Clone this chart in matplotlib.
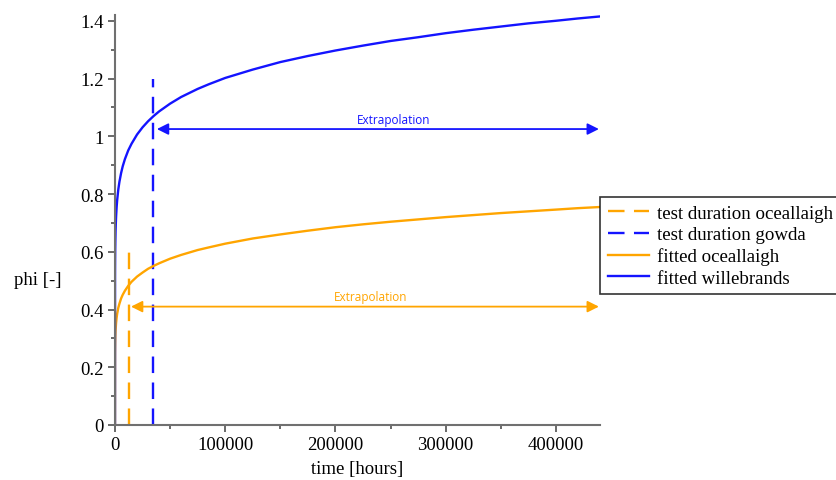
import matplotlib
matplotlib.use("Agg")
import matplotlib.pyplot as plt
from matplotlib.ticker import MultipleLocator

# time [hours] sample points of the fitted curves
t_fit = [0, 50, 100, 200, 300, 500, 700, 1000, 1500, 2000, 3000, 4000, 5500, 7000, 9000,
         12000, 15000, 20000, 25000, 30000, 35000, 40000, 50000, 60000, 75000, 85000,
         100000, 125000, 150000, 175000, 200000, 225000, 250000, 275000, 300000,
         325000, 350000, 375000, 400000, 420000, 440000]
phi_willebrands = [0.0, 0.519, 0.560, 0.605, 0.632, 0.669, 0.694, 0.722, 0.756, 0.780,
                   0.816, 0.842, 0.872, 0.896, 0.921, 0.951, 0.974, 1.006, 1.031, 1.052,
                   1.070, 1.086, 1.113, 1.136, 1.164, 1.180, 1.202, 1.231, 1.257, 1.278,
                   1.297, 1.314, 1.330, 1.343, 1.357, 1.369, 1.380, 1.391, 1.400, 1.408,
                   1.415]
phi_oceallaigh = [0.0, 0.244, 0.266, 0.289, 0.304, 0.325, 0.338, 0.354, 0.372, 0.386,
                  0.406, 0.420, 0.438, 0.451, 0.465, 0.482, 0.496, 0.514, 0.528, 0.541,
                  0.551, 0.560, 0.576, 0.589, 0.606, 0.615, 0.628, 0.646, 0.660, 0.673,
                  0.685, 0.695, 0.704, 0.712, 0.720, 0.727, 0.734, 0.740, 0.746, 0.751,
                  0.755]

# test durations (vertical markers) and their heights
test_oceallaigh = 12900
test_oceallaigh_top = 0.6
test_gowda = 34700
test_gowda_top = 1.2

# extrapolation arrows: (start, end, level)
extrap_blue = (38000, 439000, 1.025)
extrap_orange = (14500, 439000, 0.41)

ORANGE = "#FFA500"
BLUE = "#1414FF"
SERIF = ["Liberation Serif", "DejaVu Serif"]

fig = plt.figure(figsize=(8.36, 4.81), dpi=100)
ax = fig.add_axes([115 / 836, 1 - 426 / 481, (600 - 115) / 836, (426 - 16) / 481])

ax.plot([test_oceallaigh, test_oceallaigh], [0, test_oceallaigh_top], color=ORANGE,
        lw=1.7, dashes=(7, 4), label="test duration oceallaigh")
ax.plot([test_gowda, test_gowda], [0, test_gowda_top], color=BLUE,
        lw=1.7, dashes=(7, 4), label="test duration gowda")
ax.plot(t_fit, phi_oceallaigh, color=ORANGE, lw=1.7, label="fitted oceallaigh")
ax.plot(t_fit, phi_willebrands, color=BLUE, lw=1.7, label="fitted willebrands")

for (x0, x1, y), col, tx in [(extrap_blue, BLUE, 253000), (extrap_orange, ORANGE, 232000)]:
    ax.annotate("", xy=(x1, y), xytext=(x0, y),
                arrowprops=dict(arrowstyle="<|-|>", color=col, lw=1.3,
                                mutation_scale=17, shrinkA=0, shrinkB=0))
    ax.text(tx, y + 0.012, "Extrapolation", color=col, fontsize=8.5,
            family=["Open Sans", "DejaVu Sans"], ha="center", va="bottom")

ax.set_xlim(0, 440000)
ax.set_ylim(0, 1.42)
ax.xaxis.set_major_locator(MultipleLocator(100000))
ax.xaxis.set_minor_locator(MultipleLocator(50000))
ax.yaxis.set_minor_locator(MultipleLocator(0.1))
ax.set_yticks([0, 0.2, 0.4, 0.6, 0.8, 1.0, 1.2, 1.4])
ax.set_yticklabels(["0", "0.2", "0.4", "0.6", "0.8", "1", "1.2", "1.4"])

for s in ["top", "right"]:
    ax.spines[s].set_visible(False)
for s in ["left", "bottom"]:
    ax.spines[s].set_color("#707070")
    ax.spines[s].set_linewidth(1.5)
ax.tick_params(which="major", length=5, width=1.2, color="#505050", labelsize=13.5, pad=3)
ax.tick_params(which="minor", length=3, width=1.2, color="#505050")
for lbl in ax.get_xticklabels() + ax.get_yticklabels():
    lbl.set_family(SERIF)

ax.set_xlabel("time [hours]", family=SERIF, fontsize=13.5, labelpad=5)
ax.set_ylabel("phi [-]", family=SERIF, fontsize=13.5, rotation=0, ha="center", va="center")
ax.yaxis.set_label_coords(-0.159, 0.356)

leg = ax.legend(loc="upper left", bbox_to_anchor=(600 / 836, 1 - 198 / 481),
                bbox_transform=fig.transFigure, prop={"family": SERIF, "size": 13.6},
                frameon=True, fancybox=False, borderpad=0.4, labelspacing=0.22,
                handlelength=2.2, handletextpad=0.4, borderaxespad=0)
leg.get_frame().set_edgecolor("black")
leg.get_frame().set_linewidth(1.2)

fig.savefig("out.png", dpi=100)
